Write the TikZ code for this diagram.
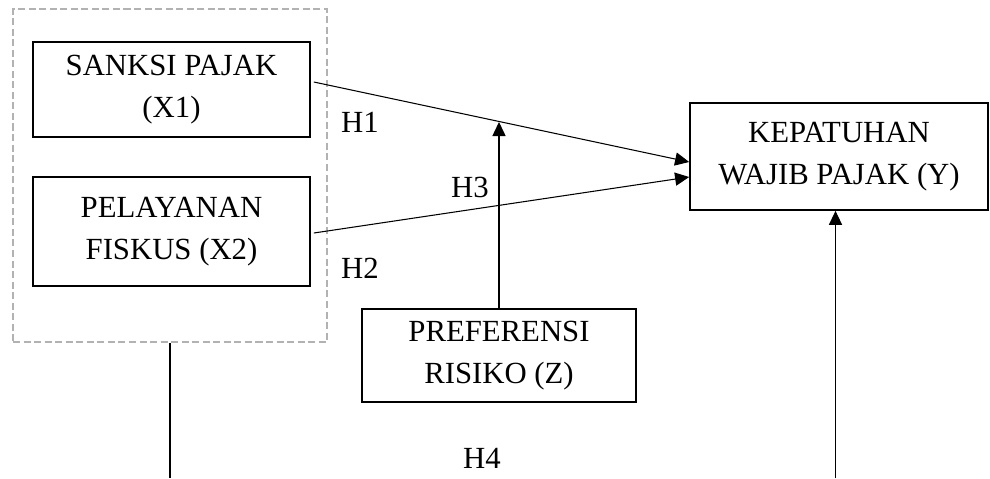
\documentclass[tikz,border=0pt]{standalone}
\usepackage{fontspec}
\setmainfont{Liberation Serif}
\usepackage{tikz}
\usetikzlibrary{positioning,arrows.meta}

\begin{document}
\begin{tikzpicture}[x=0.02cm, y=-0.02cm,
		var/.style={draw, line width=1pt, align=center, inner sep=0, font=\fontsize{17.5}{23.5}\selectfont},
		hyp/.style={font=\fontsize{17.5}{20}\selectfont},
		link/.style={line width=0.6pt, -{Triangle[length=8pt, width=7.5pt]}}]
		\useasboundingbox (0,0) rectangle (990,478);
		% independent variables group
		\node[draw=gray!60, dash pattern=on 4pt off 2pt, line width=1.1pt, inner sep=0, minimum width=6.28cm, minimum height=6.66cm] at(170,175.5) (grp) {};
		\node[var, minimum width=5.54cm, minimum height=1.9cm] at(171.5,89.5) (x1) {SANKSI PAJAK\\(X1)};
		\node[var, minimum width=5.54cm, minimum height=2.18cm] at(171.5,231.5) (x2) {PELAYANAN\\FISKUS (X2)};
		\node[var, minimum width=5.96cm, minimum height=2.14cm] at(839,156.5) (y) {KEPATUHAN\\WAJIB PAJAK (Y)};
		\node[var, minimum width=5.48cm, minimum height=1.86cm] at(499,355.5) (z) {PREFERENSI\\RISIKO (Z)};
		\node[hyp] at(360,122) (h1) {H1};
		\node[hyp] at(360,268) (h2) {H2};
		\node[hyp] at(470,187) (h3) {H3};
		\node[hyp] at(482,458) (h4) {H4};
		\draw[link] ([xshift=0.06cm, yshift=0.15cm]x1.east) -- coordinate[pos=0.5] (m) ([yshift=-0.11cm]y.west);
		\draw[link] ([xshift=0.06cm, yshift=-0.03cm]x2.east) -- ([yshift=-0.41cm]y.west);
		\draw[link] (z.north) -- (z.north |- m);
		\coordinate (bl) at (grp.south |- 0,478);
		\coordinate (br) at ([xshift=-0.07cm]y.south |- 0,478);
		\draw[line width=0.6pt] (grp.south) -- (bl);
		\draw[link] (br) -- ([xshift=-0.07cm]y.south);
	\end{tikzpicture}
\end{document}
